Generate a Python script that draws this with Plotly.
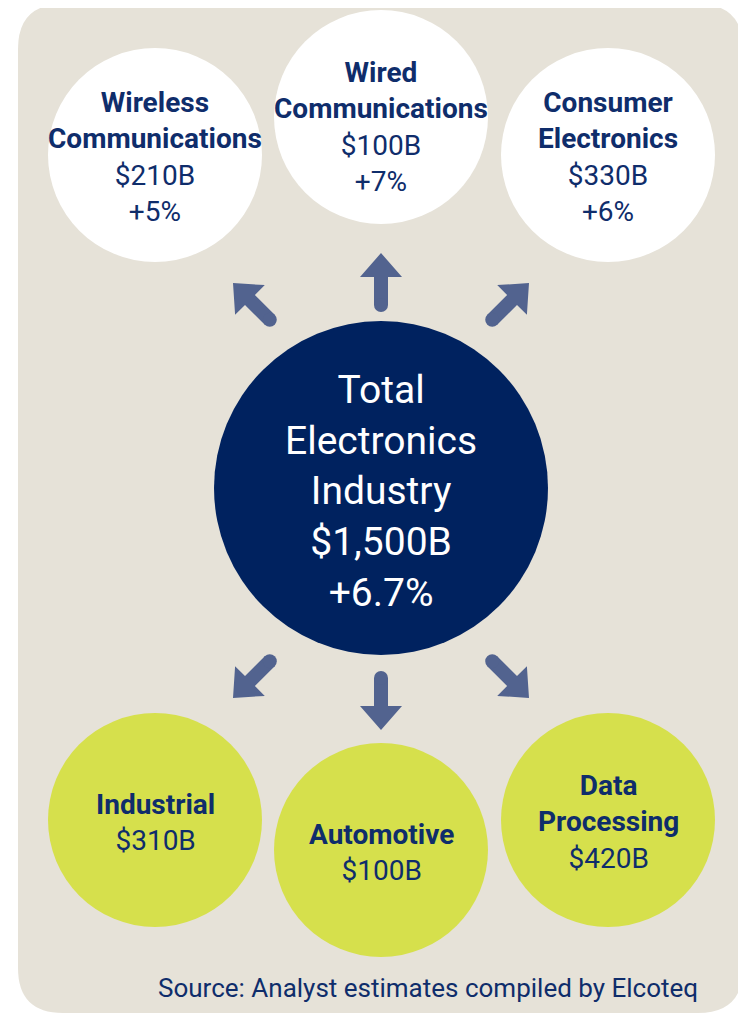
import numpy as np
import plotly.graph_objects as go

# Données
segments = ["Wireless\nCommunications", "Wired\nCommunications", "Consumer\nElectronics",
            "Industrial", "Automotive", "Data\nProcessing"]
valeurs = [210, 100, 330, 310, 100, 420]
croissance = ["+5%", "+7%", "+6%", None, None, None]
total_nom = "Total\nElectronics\nIndustry"
total_valeur = "$1,500B"
total_croissance = "+6.7%"
source = "Source: Analyst estimates compiled by Elcoteq"

# Mise en page (pixels de la page ; le body HTML décale le graphique de 8 px)
W, H = 746, 1014
DECALAGE = 8
centres = [(155, 155), (381, 117), (608, 155), (155, 820), (381, 850), (608, 820)]
centres_texte = [157, 127, 157, 822, 852, 822]
rayon = 107
centre_total = (381, 488, 167)
fleches = [((233, 283), (-1, -1)), ((381, 253), (0, -1)), ((529, 283), (1, -1)),
           ((233, 698), (-1, 1)), ((381, 730), (0, 1)), ((529, 698), (1, 1))]

FOND = "#E6E2D8"
NAVY = "#00225F"
TEXTE = "#0F2D6B"
VERT = "#D6E04C"
FLECHE = "#52638F"
POLICE = "Roboto, Liberation Sans, sans-serif"


def rect_arrondi(x0, y0, x1, y1, r):
    return (f"M{x0 + r},{y0} L{x1 - r},{y0} Q{x1},{y0} {x1},{y0 + r} "
            f"L{x1},{y1 - r} Q{x1},{y1} {x1 - r},{y1} L{x0 + r},{y1} "
            f"Q{x0},{y1} {x0},{y1 - r} L{x0},{y0 + r} Q{x0},{y0} {x0 + r},{y0} Z")


def chemin_fleche(pointe, direction, longueur=52, tete=24, largeur_tete=42, tige=14):
    d = np.array(direction, dtype=float)
    d /= np.linalg.norm(d)
    n = np.array([-d[1], d[0]])
    t = np.array(pointe, dtype=float)
    pts = [t,
           t - d * tete + n * largeur_tete / 2,
           t - d * tete + n * tige / 2,
           t - d * longueur + n * tige / 2,
           t - d * longueur - n * tige / 2,
           t - d * tete - n * tige / 2,
           t - d * tete - n * largeur_tete / 2]
    queue = t - d * longueur
    return "M" + " L".join(f"{p[0]:.1f},{p[1]:.1f}" for p in pts) + " Z", queue


fig = go.Figure()
fig.add_trace(go.Scatter(x=[DECALAGE, W], y=[DECALAGE, H], mode="markers",
                         marker=dict(opacity=0), hoverinfo="skip", showlegend=False))

shapes = [dict(type="path", xref="x", yref="y", path=rect_arrondi(18, 4, 743, 1013, 45),
               fillcolor=FOND, line=dict(width=0), layer="below")]

for i, (cx, cy) in enumerate(centres):
    couleur = "white" if i < 3 else VERT
    shapes.append(dict(type="circle", xref="x", yref="y",
                       x0=cx - rayon, x1=cx + rayon, y0=cy - rayon, y1=cy + rayon,
                       fillcolor=couleur, line=dict(width=0), layer="below"))

cx, cy, r = centre_total
shapes.append(dict(type="circle", xref="x", yref="y", x0=cx - r, x1=cx + r,
                   y0=cy - r, y1=cy + r, fillcolor=NAVY, line=dict(width=0), layer="below"))

for pointe, direction in fleches:
    chemin, queue = chemin_fleche(pointe, direction)
    shapes.append(dict(type="path", xref="x", yref="y", path=chemin,
                       fillcolor=FLECHE, line=dict(width=0), layer="below"))
    shapes.append(dict(type="circle", xref="x", yref="y",
                       x0=queue[0] - 7, x1=queue[0] + 7, y0=queue[1] - 7, y1=queue[1] + 7,
                       fillcolor=FLECHE, line=dict(width=0), layer="below"))

annotations = []
for i, (nom, val, cr) in enumerate(zip(segments, valeurs, croissance)):
    lignes = [f"<b>{l}</b>" for l in nom.split("\n")] + [f"${val}B"]
    if cr:
        lignes.append(cr)
    annotations.append(dict(x=centres[i][0], y=centres_texte[i], xref="x", yref="y",
                            text="<br>".join(lignes), showarrow=False,
                            font=dict(family=POLICE, size=28, color=TEXTE)))

lignes = total_nom.split("\n") + [total_valeur, total_croissance]
annotations.append(dict(x=centre_total[0], y=491, xref="x", yref="y",
                        text="<br>".join(lignes), showarrow=False,
                        font=dict(family=POLICE, size=39, color="white")))

annotations.append(dict(x=700, y=988, xref="x", yref="y", xanchor="right",
                        text=source, showarrow=False,
                        font=dict(family=POLICE, size=26, color=TEXTE)))

fig.update_layout(
    width=W - DECALAGE, height=H - DECALAGE,
    margin=dict(l=0, r=0, t=0, b=0),
    paper_bgcolor="white", plot_bgcolor="white",
    shapes=shapes, annotations=annotations,
    xaxis=dict(range=[DECALAGE, W], visible=False, fixedrange=True),
    yaxis=dict(range=[H, DECALAGE], visible=False, fixedrange=True),
    showlegend=False,
)

fig.write_html("out.html", config={"displayModeBar": False})
